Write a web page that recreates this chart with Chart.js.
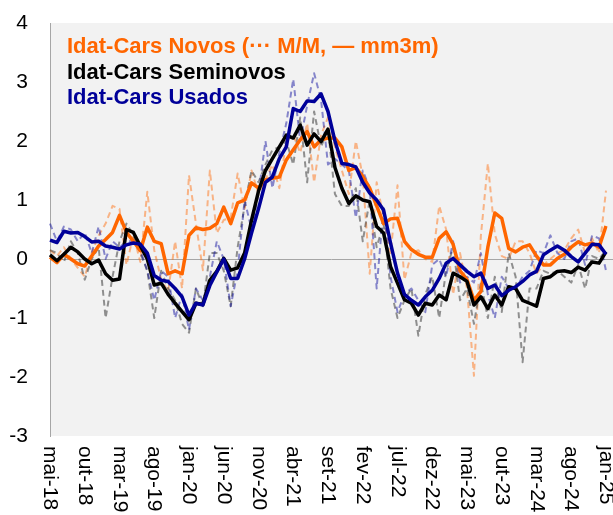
<!DOCTYPE html>
<html>
<head>
<meta charset="utf-8">
<script src="https://cdn.jsdelivr.net/npm/chart.js@4.4.1/dist/chart.umd.min.js"></script>
<style>
  html, body { margin: 0; padding: 0; background: #fff; }
  #wrap { width: 613px; height: 515px; }
</style>
</head>
<body>
<div id="wrap"><canvas id="chart"></canvas></div>
<script>
// month names used for the category labels (mai-18 .. jan-25)
const monthNames = ['jan','fev','mar','abr','mai','jun','jul','ago','set','out','nov','dez'];
const firstMonth = 4, firstYear = 18, nPoints = 81;
const labelStep = 5;
const yMin = -3, yMax = 4, yStep = 1;

// Idat-Cars Novos
const novosMM = [0.15,0.05,0.2,0.0,-0.15,-0.3,0.1,0.4,0.6,0.9,0.85,-0.1,0.4,-0.05,1.14,0.15,-0.35,-0.55,0.3,-0.5,
  1.42,0.6,-0.19,1.5,0.44,0.66,0.7,1.45,0.85,1.5,1.1,1.35,1.6,1.2,2.0,2.1,1.8,2.3,1.3,2.1,
  2.4,1.9,1.5,1.1,2.0,1.4,-0.25,1.3,0.7,0.1,1.25,-0.35,0.1,0.15,0.0,-0.05,0.9,0.5,-0.6,0.1,
  -0.5,-1.98,0.4,1.62,0.42,0.05,0.0,0.3,0.3,0.1,-0.25,-0.1,0.0,0.1,0.15,0.35,0.5,0.1,0.35,0.1,1.16];
const novosMM3 = [0.03,-0.06,0.08,0.0,-0.08,-0.12,0.05,0.22,0.33,0.45,0.74,0.45,0.3,0.14,0.54,0.3,0.26,-0.25,-0.2,-0.25,
  0.4,0.53,0.5,0.52,0.6,0.88,0.6,0.95,1.0,1.29,1.2,1.34,1.37,1.39,1.68,1.85,2.02,2.16,1.9,2.02,
  2.05,2.05,1.9,1.5,1.55,1.4,1.2,0.9,0.6,0.68,0.69,0.3,0.16,0.08,0.03,0.03,0.35,0.46,0.25,-0.2,
  -0.35,-0.7,-0.55,0.2,0.78,0.69,0.18,0.12,0.2,0.24,0.05,-0.1,-0.1,0.01,0.08,0.2,0.29,0.24,0.27,0.2,0.56];

// Idat-Cars Seminovos
const semiMM = [0.15,0.1,-0.05,0.3,0.1,-0.35,0.0,0.2,-1.0,-0.3,0.3,0.6,0.4,0.1,-0.2,-1.0,-0.2,-0.5,-0.7,-1.1,
  -1.25,-0.5,-0.8,0.1,0.1,-0.2,-0.8,0.2,0.9,1.5,1.3,1.6,1.85,1.9,2.0,1.6,2.4,1.3,2.5,1.9,
  2.2,1.1,0.9,0.9,1.2,0.3,1.0,0.2,0.6,-0.5,-1.0,-0.7,-0.5,-1.3,-0.6,-0.3,-1.0,-0.2,0.2,-0.7,
  -0.5,-1.1,-0.4,-1.0,-0.3,-0.9,0.1,-0.3,-1.75,-0.5,-0.5,-0.2,-0.25,-0.2,-0.3,-0.4,-0.1,-0.5,0.05,0.0,0.15];
const semiMM3 = [0.07,-0.03,0.08,0.2,0.12,0.0,-0.08,-0.02,-0.25,-0.36,-0.34,0.5,0.45,0.22,0.0,-0.44,-0.41,-0.6,-0.75,-0.89,
  -1.03,-0.75,-0.77,-0.36,-0.21,0.01,-0.19,-0.15,0.1,0.66,1.15,1.5,1.7,1.9,2.1,2.05,2.27,1.93,2.12,1.99,
  2.2,1.55,1.2,0.94,1.07,1.0,0.97,0.55,0.44,-0.13,-0.41,-0.69,-0.75,-0.95,-0.75,-0.78,-0.61,-0.69,-0.24,-0.3,
  -0.38,-0.78,-0.64,-0.84,-0.61,-0.78,-0.47,-0.5,-0.7,-0.75,-0.8,-0.33,-0.3,-0.21,-0.2,-0.23,-0.14,-0.19,-0.05,-0.07,0.12];

// Idat-Cars Usados
const usadosMM = [0.6,0.3,0.55,0.5,0.3,0.45,0.1,0.55,0.0,0.3,0.2,0.3,0.3,0.15,-0.2,-0.7,-0.2,-0.3,-1.0,-0.6,
  -1.2,-0.5,-0.7,-0.3,0.3,0.0,-0.8,-0.2,1.0,0.5,1.1,2.0,1.2,1.8,2.3,3.05,2.0,2.6,3.15,2.7,
  1.6,1.7,1.6,1.5,0.7,1.5,1.2,-0.5,0.9,-0.3,-0.9,-0.6,-0.5,-0.7,-0.9,-0.1,0.0,-0.3,0.3,-0.4,
  -0.3,-0.4,0.1,-0.6,-1.0,-0.3,-0.5,-0.5,-0.3,-0.2,0.15,0.1,0.4,0.1,0.0,0.3,0.35,-0.1,0.4,0.35,-0.2];
const usadosMM3 = [0.32,0.28,0.47,0.44,0.45,0.38,0.29,0.3,0.22,0.2,0.17,0.24,0.27,0.25,0.1,-0.28,-0.36,-0.38,-0.5,-0.64,
  -0.95,-0.75,-0.78,-0.45,-0.22,0.0,-0.33,-0.33,0.0,0.44,0.85,1.3,1.39,1.7,1.9,2.55,2.5,2.68,2.67,2.8,
  2.5,2.0,1.62,1.6,1.56,1.3,1.12,1.0,0.83,0.27,-0.24,-0.6,-0.7,-0.78,-0.64,-0.53,-0.33,-0.07,0.01,-0.1,
  -0.21,-0.3,-0.24,-0.5,-0.44,-0.62,-0.53,-0.47,-0.38,-0.27,-0.21,0.07,0.15,0.22,0.15,0.04,-0.05,0.1,0.25,0.24,0.08];

const titleLines = [
  { text: 'Idat-Cars Novos (\u00b7\u00b7\u00b7 M/M, \u2014 mm3m)', color: '#FF6600' },
  { text: 'Idat-Cars Seminovos', color: '#000000' },
  { text: 'Idat-Cars Usados', color: '#000099' }
];

const labels = [];
for (let i = 0; i < nPoints; i++) {
  const m = (firstMonth + i) % 12;
  const y = firstYear + Math.floor((firstMonth + i) / 12);
  labels.push(monthNames[m] + '-' + y);
}

const FONT = '"Liberation Sans", Arial, sans-serif';

const decor = {
  id: 'decor',
  beforeDraw(chart) {
    const ctx = chart.ctx, a = chart.chartArea;
    ctx.save();
    ctx.fillStyle = '#F2F2F2';
    ctx.fillRect(a.left, a.top, chart.width - a.left, a.bottom - a.top);
    ctx.restore();
  },
  beforeDatasetsDraw(chart) {
    const ctx = chart.ctx, a = chart.chartArea;
    const y0 = Math.round(chart.scales.y.getPixelForValue(0)) + 0.5;
    ctx.save();
    ctx.strokeStyle = '#A6A6A6';
    ctx.lineWidth = 1;
    ctx.beginPath();
    ctx.moveTo(a.left, y0);
    ctx.lineTo(chart.width, y0);
    ctx.stroke();
    ctx.font = 'bold 22px ' + FONT;
    ctx.textBaseline = 'alphabetic';
    titleLines.forEach((t, k) => {
      ctx.fillStyle = t.color;
      ctx.fillText(t.text, 67, 53 + k * 25.7);
    });
    ctx.restore();
  },
  afterDraw(chart) {
    const ctx = chart.ctx, a = chart.chartArea, xs = chart.scales.x;
    ctx.save();
    ctx.font = '21px ' + FONT;
    ctx.fillStyle = '#000';
    ctx.textAlign = 'left';
    ctx.textBaseline = 'middle';
    for (let i = 0; i < labels.length; i += labelStep) {
      ctx.save();
      ctx.translate(xs.getPixelForValue(i), a.bottom + 10);
      ctx.rotate(Math.PI / 2);
      ctx.fillText(labels[i], 0, 0);
      ctx.restore();
    }
    ctx.restore();
  }
};

function dashed(label, data, color, order) {
  return { label, data, borderColor: color, borderWidth: 2, borderDash: [6, 4], order };
}
function solid(label, data, color, order) {
  return { label, data, borderColor: color, borderWidth: 3.5, order };
}

new Chart(document.getElementById('chart'), {
  type: 'line',
  data: {
    labels: labels,
    datasets: [
      dashed('Novos M/M', novosMM, 'rgba(255,102,0,0.45)', 6),
      dashed('Seminovos M/M', semiMM, 'rgba(60,60,60,0.55)', 5),
      dashed('Usados M/M', usadosMM, 'rgba(0,0,153,0.45)', 4),
      solid('Novos mm3m', novosMM3, '#FF6600', 3),
      solid('Seminovos mm3m', semiMM3, '#000000', 2),
      solid('Usados mm3m', usadosMM3, '#000099', 1)
    ]
  },
  options: {
    responsive: true,
    maintainAspectRatio: false,
    animation: false,
    layout: { padding: { top: 23, right: 7, left: 0, bottom: 0 } },
    elements: {
      point: { radius: 0 },
      line: { tension: 0, borderCapStyle: 'butt', borderJoinStyle: 'round' }
    },
    plugins: {
      legend: { display: false },
      tooltip: { enabled: false }
    },
    scales: {
      x: {
        type: 'category',
        offset: false,
        grid: { display: false },
        border: { display: false },
        ticks: { display: false },
        afterFit(scale) { scale.height = 79; }
      },
      y: {
        min: yMin,
        max: yMax,
        grid: { display: false, drawTicks: false },
        border: { display: true, color: '#A6A6A6', width: 1 },
        ticks: {
          stepSize: yStep,
          color: '#000',
          padding: 22,
          font: { family: FONT, size: 21 }
        },
        afterFit(scale) { scale.width = 50; scale.paddingTop = 0; scale.paddingBottom = 0; }
      }
    }
  },
  plugins: [decor]
});
</script>
</body>
</html>
